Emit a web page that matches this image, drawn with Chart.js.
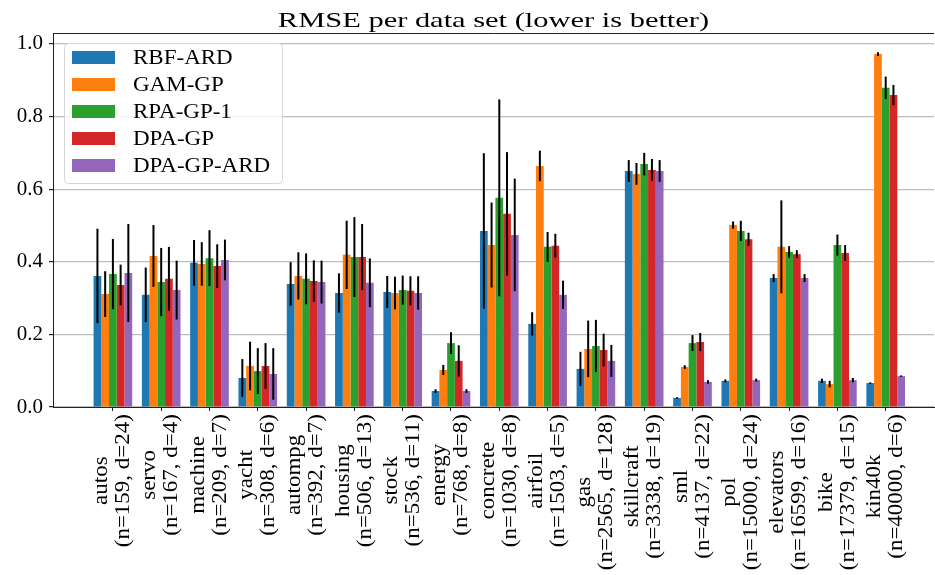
<!DOCTYPE html>
<html>
<head>
<meta charset="utf-8">
<script src="https://cdn.jsdelivr.net/npm/chart.js@4.4.1/dist/chart.umd.min.js"></script>
<style>
  html, body { margin: 0; padding: 0; background: #fff; }
  #wrap { width: 935px; height: 575px; position: relative; }
</style>
</head>
<body>
<div id="wrap"><canvas id="chartRmse"></canvas></div>
<script>
// data sets (name + size line)
const dataSets = ['autos', 'servo', 'machine', 'yacht', 'autompg', 'housing', 'stock', 'energy',
    'concrete', 'airfoil', 'gas', 'skillcraft', 'sml', 'pol', 'elevators', 'bike', 'kin40k'];
const dataSizes = ['(n=159, d=24)', '(n=167, d=4)', '(n=209, d=7)', '(n=308, d=6)', '(n=392, d=7)',
    '(n=506, d=13)', '(n=536, d=11)', '(n=768, d=8)', '(n=1030, d=8)', '(n=1503, d=5)',
    '(n=2565, d=128)', '(n=3338, d=19)', '(n=4137, d=22)', '(n=15000, d=24)',
    '(n=16599, d=16)', '(n=17379, d=15)', '(n=40000, d=6)'];

const methods = ['RBF-ARD', 'GAM-GP', 'RPA-GP-1', 'DPA-GP', 'DPA-GP-ARD'];
const colors = ['#1f77b4', '#ff7f0e', '#2ca02c', '#d62728', '#9467bd'];

// RMSE means
const rmseRbfArd   = [0.361, 0.309, 0.397, 0.080, 0.339, 0.314, 0.317, 0.044, 0.485, 0.229, 0.105, 0.650, 0.025, 0.072, 0.355, 0.072, 0.066];
const rmseGamGp    = [0.311, 0.416, 0.394, 0.113, 0.361, 0.419, 0.314, 0.102, 0.446, 0.664, 0.160, 0.642, 0.110, 0.501, 0.441, 0.063, 0.972];
const rmseRpaGp1   = [0.366, 0.344, 0.410, 0.099, 0.353, 0.413, 0.322, 0.176, 0.576, 0.441, 0.168, 0.669, 0.176, 0.485, 0.427, 0.446, 0.879];
const rmseDpaGp    = [0.336, 0.353, 0.388, 0.113, 0.347, 0.413, 0.320, 0.127, 0.532, 0.444, 0.157, 0.653, 0.179, 0.462, 0.421, 0.424, 0.859];
const rmseDpaGpArd = [0.369, 0.322, 0.405, 0.091, 0.344, 0.342, 0.314, 0.044, 0.474, 0.309, 0.127, 0.650, 0.069, 0.074, 0.355, 0.074, 0.085];

// error bar half-widths
const errRbfArd   = [0.130, 0.075, 0.063, 0.052, 0.060, 0.054, 0.044, 0.005, 0.214, 0.032, 0.047, 0.030, 0.002, 0.004, 0.011, 0.006, 0.002];
const errGamGp    = [0.063, 0.085, 0.060, 0.067, 0.065, 0.094, 0.045, 0.014, 0.117, 0.042, 0.078, 0.030, 0.005, 0.010, 0.128, 0.009, 0.005];
const errRpaGp1   = [0.097, 0.094, 0.077, 0.063, 0.070, 0.110, 0.040, 0.030, 0.271, 0.041, 0.072, 0.031, 0.022, 0.028, 0.016, 0.029, 0.031];
const errDpaGp    = [0.056, 0.088, 0.060, 0.063, 0.057, 0.091, 0.040, 0.043, 0.170, 0.033, 0.045, 0.030, 0.025, 0.018, 0.011, 0.022, 0.028];
const errDpaGpArd = [0.135, 0.081, 0.056, 0.071, 0.059, 0.067, 0.046, 0.005, 0.155, 0.039, 0.044, 0.030, 0.005, 0.004, 0.011, 0.006, 0.002];

const yTicks = [0, 0.2, 0.4, 0.6, 0.8, 1.0];
const chartTitle = 'RMSE per data set (lower is better)';

const allMeans = [rmseRbfArd, rmseGamGp, rmseRpaGp1, rmseDpaGp, rmseDpaGpArd];
const allErrs = [errRbfArd, errGamGp, errRpaGp1, errDpaGp, errDpaGpArd];

// no DejaVu Serif here, Liberation Serif is the closest serif we have;
// it is narrower, so text gets a slight horizontal stretch
const FONT = "'Liberation Serif', serif";
const FONT_SIZE = 20;
const STRETCH = 1.15;
const TITLE_STRETCH = 1.45;

// --- error bars, tick labels, frame, title and legend drawn on top ---
const extrasPlugin = {
    id: 'extras',
    afterDraw(chart) {
        const ctx = chart.ctx;
        const xs = chart.scales.x;
        const ys = chart.scales.y;
        const area = chart.chartArea;

        // error bars
        ctx.save();
        ctx.strokeStyle = '#000';
        ctx.lineWidth = 2;
        chart.data.datasets.forEach((ds, di) => {
            const meta = chart.getDatasetMeta(di);
            meta.data.forEach((bar, i) => {
                const m = allMeans[di][i];
                const e = allErrs[di][i];
                ctx.beginPath();
                ctx.moveTo(bar.x, ys.getPixelForValue(m - e));
                ctx.lineTo(bar.x, ys.getPixelForValue(m + e));
                ctx.stroke();
            });
        });
        ctx.restore();

        // top frame
        ctx.save();
        ctx.strokeStyle = '#222';
        ctx.lineWidth = 1;
        ctx.beginPath();
        ctx.moveTo(area.left, area.top + 0.5);
        ctx.lineTo(area.right, area.top + 0.5);
        ctx.stroke();
        ctx.restore();

        // title
        ctx.save();
        ctx.font = '21px ' + FONT;
        ctx.fillStyle = '#000';
        ctx.textAlign = 'center';
        ctx.textBaseline = 'alphabetic';
        ctx.translate((area.left + area.right) / 2, 26.5);
        ctx.scale(TITLE_STRETCH, 1);
        ctx.fillText(chartTitle, 0, 0);
        ctx.restore();

        // rotated two-line x labels, lines centred on each other
        ctx.save();
        ctx.font = FONT_SIZE + 'px ' + FONT;
        ctx.fillStyle = '#000';
        ctx.textAlign = 'center';
        ctx.textBaseline = 'middle';
        const lh = 22;
        dataSets.forEach((name, i) => {
            const x = xs.getPixelForValue(i);
            const w = Math.max(ctx.measureText(name).width, ctx.measureText(dataSizes[i]).width) * STRETCH;
            ctx.save();
            ctx.translate(x, area.bottom + 7);
            ctx.rotate(-Math.PI / 2);
            ctx.translate(-w / 2, 0);
            ctx.scale(STRETCH, 1);
            ctx.fillText(name, 0, -lh / 2);
            ctx.fillText(dataSizes[i], 0, lh / 2);
            ctx.restore();
        });
        ctx.restore();

        // legend
        ctx.save();
        const lx = 64, ly = 43, lw = 218, lhBox = 140;
        ctx.fillStyle = 'rgba(255,255,255,0.8)';
        ctx.strokeStyle = '#d6d6d6';
        ctx.lineWidth = 1;
        ctx.beginPath();
        ctx.roundRect(lx + 0.5, ly + 0.5, lw, lhBox, 4);
        ctx.fill();
        ctx.stroke();
        ctx.font = FONT_SIZE + 'px ' + FONT;
        ctx.textBaseline = 'middle';
        ctx.textAlign = 'left';
        methods.forEach((m, k) => {
            const cy = 57.5 + k * 27;
            ctx.fillStyle = colors[k];
            ctx.fillRect(72, cy - 6.5, 43, 13);
            ctx.fillStyle = '#000';
            ctx.save();
            ctx.translate(133, cy + 1);
            ctx.scale(STRETCH, 1);
            ctx.fillText(m, 0, 0);
            ctx.restore();
        });
        ctx.restore();
    }
};

const datasets = methods.map((m, k) => ({
    label: m,
    data: allMeans[k].map((v, i) => ({ x: i, y: v })),
    backgroundColor: colors[k],
    borderWidth: 0,
    categoryPercentage: 0.8,
    barPercentage: 1.0
}));

new Chart(document.getElementById('chartRmse'), {
    type: 'bar',
    data: { datasets: datasets },
    options: {
        responsive: true,
        maintainAspectRatio: false,
        animation: false,
        layout: { padding: { left: 0, right: 1, top: 33, bottom: 0 } },
        plugins: {
            legend: { display: false },
            tooltip: { enabled: false },
            title: { display: false }
        },
        scales: {
            x: {
                type: 'linear',
                min: -1.24,
                max: 17.0,
                offset: false,
                z: 1,
                afterBuildTicks: (scale) => {
                    scale.ticks = dataSets.map((d, i) => ({ value: i }));
                },
                afterFit: (scale) => { scale.height = 168; },
                ticks: { display: false },
                grid: { offset: false, drawOnChartArea: false, tickLength: 4, tickColor: '#222' },
                border: { color: '#222', width: 1 }
            },
            y: {
                min: 0,
                max: 1.03,
                z: 1,
                afterBuildTicks: (scale) => {
                    scale.ticks = yTicks.map(v => ({ value: v }));
                },
                afterFit: (scale) => { scale.width = 53; },
                ticks: {
                    color: '#000',
                    padding: 6,
                    font: { family: FONT, size: 21 },
                    callback: (v) => v.toFixed(1)
                },
                grid: { color: '#bdbdbd', lineWidth: 1.2, tickLength: 4, tickColor: '#222' },
                border: { color: '#222', width: 1 }
            }
        }
    },
    plugins: [extrasPlugin]
});
</script>
</body>
</html>
